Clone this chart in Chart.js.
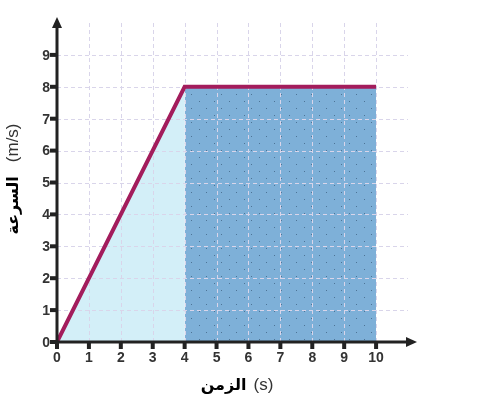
<!DOCTYPE html>
<html>
<head>
<meta charset="utf-8">
<script src="https://cdn.jsdelivr.net/npm/chart.js@4"></script>
<style>
  html, body { margin: 0; padding: 0; background: #fff; }
  #wrap { width: 495px; height: 397px; }
</style>
</head>
<body>
<div id="wrap"><canvas id="speedChart" width="495" height="397"></canvas></div>
<script>
// data
const xTicks = [0, 1, 2, 3, 4, 5, 6, 7, 8, 9, 10];
const yTicks = [0, 1, 2, 3, 4, 5, 6, 7, 8, 9];
const accelTime = [0, 4];
const accelSpeed = [0, 8];
const constTime = [4, 10];
const constSpeed = [8, 8];
const lineTime = [0, 4, 10];
const lineSpeed = [0, 8, 8];
const xTitleAr = 'الزمن';
const xTitleUnit = '(s)';
const yTitleAr = 'السرعة';
const yTitleUnit = '(m/s)';

const toPoints = (xs, ys) => xs.map((x, i) => ({ x: x, y: ys[i] }));

// dotted blue fill
const makeDots = () => {
    const c = document.createElement('canvas');
    c.width = 15; c.height = 14;
    const g = c.getContext('2d');
    g.fillStyle = '#7eb0d8';
    g.fillRect(0, 0, 15, 14);
    g.fillStyle = '#4d7496';
    g.fillRect(4, 3, 1, 1);
    g.fillRect(11, 10, 1, 1);
    return g.createPattern(c, 'repeat');
};

const ctx = document.getElementById('speedChart').getContext('2d');
const dotPattern = makeDots();

// grid under the red line but above the fills
const gridPlugin = {
    id: 'gridUnderLine',
    beforeDatasetDraw: (chart, args) => {
        if (args.index !== 0) return;
        const { ctx, scales: { x, y } } = chart;
        ctx.save();
        ctx.strokeStyle = '#d9d5ea';
        ctx.lineWidth = 1;
        ctx.setLineDash([4, 3]);
        xTicks.slice(1).forEach(v => {
            const px = Math.round(x.getPixelForValue(v)) + 0.5;
            ctx.beginPath();
            ctx.moveTo(px, y.getPixelForValue(10));
            ctx.lineTo(px, y.getPixelForValue(0));
            ctx.stroke();
        });
        yTicks.slice(1).forEach(v => {
            const py = Math.round(y.getPixelForValue(v)) + 0.5;
            ctx.beginPath();
            ctx.moveTo(x.getPixelForValue(0), py);
            ctx.lineTo(x.getPixelForValue(11), py);
            ctx.stroke();
        });
        ctx.restore();
    }
};

// axes with arrows, tick marks, labels and titles
const axesPlugin = {
    id: 'arrowAxes',
    afterDraw: (chart) => {
        const { ctx, scales: { x, y } } = chart;
        const x0 = x.getPixelForValue(0);
        const y0 = y.getPixelForValue(0);
        const xEnd = x.getPixelForValue(11) + 9;
        const yEnd = y.getPixelForValue(10) - 6;
        ctx.save();
        ctx.strokeStyle = '#222';
        ctx.fillStyle = '#222';
        ctx.lineWidth = 3;
        ctx.beginPath();
        ctx.moveTo(x0 - 3, y0);
        ctx.lineTo(xEnd - 8, y0);
        ctx.moveTo(x0, y0 + 3);
        ctx.lineTo(x0, yEnd + 8);
        ctx.stroke();
        // arrow heads
        ctx.beginPath();
        ctx.moveTo(xEnd, y0);
        ctx.lineTo(xEnd - 11, y0 - 5);
        ctx.lineTo(xEnd - 11, y0 + 5);
        ctx.closePath();
        ctx.fill();
        ctx.beginPath();
        ctx.moveTo(x0, yEnd);
        ctx.lineTo(x0 - 5, yEnd + 11);
        ctx.lineTo(x0 + 5, yEnd + 11);
        ctx.closePath();
        ctx.fill();
        // tick marks
        xTicks.forEach(v => {
            const px = x.getPixelForValue(v);
            ctx.fillRect(px - 2, y0, 4, 7);
        });
        yTicks.forEach(v => {
            const py = y.getPixelForValue(v);
            ctx.fillRect(x0 - 7, py - 2, 7, 4);
        });
        // tick labels
        ctx.fillStyle = '#333';
        ctx.font = 'bold 14px "Liberation Sans", Arial, sans-serif';
        ctx.textAlign = 'center';
        ctx.textBaseline = 'top';
        xTicks.forEach(v => ctx.fillText(String(v), x.getPixelForValue(v), y0 + 9));
        ctx.textAlign = 'right';
        ctx.textBaseline = 'middle';
        yTicks.forEach(v => ctx.fillText(String(v), x0 - 7, y.getPixelForValue(v) + 1));

        // titles
        const arFont = 'bold 16px "DejaVu Sans", "Noto Sans", sans-serif';
        const unitFont = '17px "Liberation Sans", Arial, sans-serif';
        const drawTitle = (ar, unit, cx, base, gap) => {
            ctx.font = arFont;
            const wa = ctx.measureText(ar).width;
            ctx.font = unitFont;
            const wu = ctx.measureText(unit).width;
            const start = cx - (wa + gap + wu) / 2;
            ctx.textAlign = 'left';
            ctx.textBaseline = 'alphabetic';
            ctx.font = arFont;
            ctx.fillStyle = '#000';
            ctx.fillText(ar, start, base);
            ctx.font = unitFont;
            ctx.fillStyle = '#333';
            ctx.fillText(unit, start + wa + gap, base);
        };
        drawTitle(xTitleAr, xTitleUnit, 237, 390, 7);
        ctx.translate(18, 179);
        ctx.rotate(-Math.PI / 2);
        drawTitle(yTitleAr, yTitleUnit, 0, 0, 14);
        ctx.restore();
    }
};

new Chart(ctx, {
    type: 'line',
    data: {
        datasets: [
            {
                label: 'speed',
                data: toPoints(lineTime, lineSpeed),
                borderColor: '#a31c5c',
                borderWidth: 4,
                pointRadius: 0,
                fill: false,
                tension: 0
            },
            {
                label: 'constant',
                data: toPoints(constTime, constSpeed),
                borderWidth: 0,
                borderColor: 'rgba(0,0,0,0)',
                pointRadius: 0,
                backgroundColor: dotPattern,
                fill: 'origin'
            },
            {
                label: 'accel',
                data: toPoints(accelTime, accelSpeed),
                borderWidth: 0,
                borderColor: 'rgba(0,0,0,0)',
                pointRadius: 0,
                backgroundColor: '#d3eff8',
                fill: 'origin'
            }
        ]
    },
    options: {
        responsive: false,
        animation: false,
        layout: { padding: { left: 57, right: 87, top: 23, bottom: 55 } },
        plugins: { legend: { display: false }, tooltip: { enabled: false } },
        scales: {
            x: { type: 'linear', min: 0, max: 11, display: false },
            y: { type: 'linear', min: 0, max: 10, display: false }
        }
    },
    plugins: [gridPlugin, axesPlugin]
});
</script>
</body>
</html>
